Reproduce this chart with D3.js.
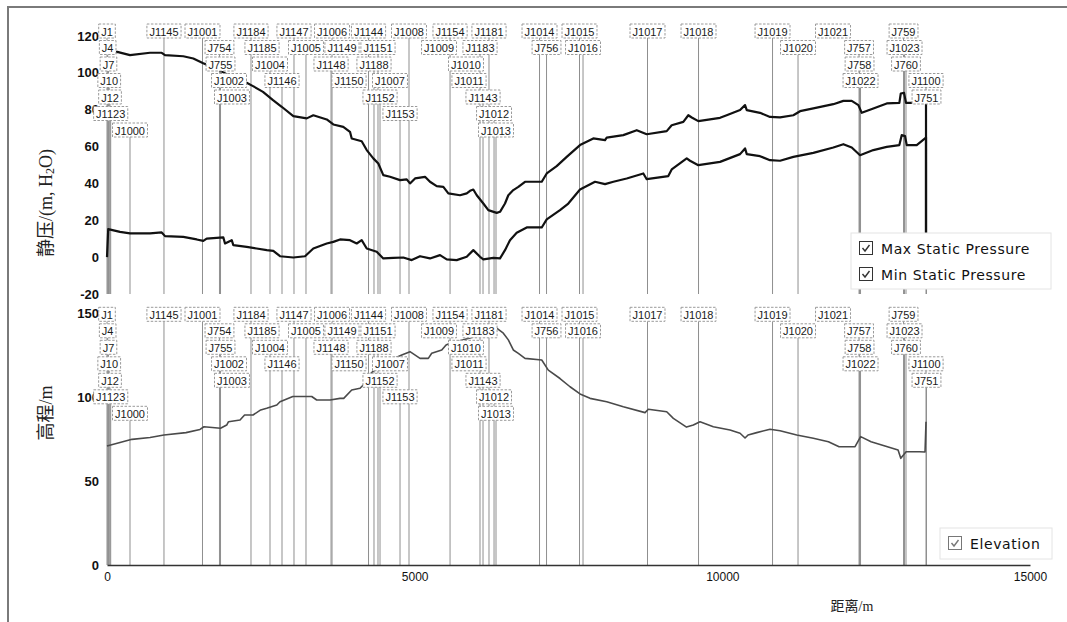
<!DOCTYPE html>
<html>
<head>
<meta charset="utf-8">
<script src="https://cdn.jsdelivr.net/npm/d3@7"></script>
<style>
  body { margin: 0; background: #fff; }
  svg { display: block; }
</style>
</head>
<body>
<svg id="chart" width="1067" height="622"></svg>
<script>
// Junction names along the pipe route, and their distance from the start (m)
const junctionNames = ["J1","J4","J7","J10","J12","J1123","J1000","J1145","J1001","J754","J755","J1002","J1003",
  "J1184","J1185","J1004","J1146","J1147","J1005","J1006","J1149","J1148","J1150","J1144","J1151","J1188",
  "J1007","J1152","J1008","J1153","J1154","J1009","J1010","J1011","J1181","J1183","J1143","J1012","J1013",
  "J1014","J756","J1015","J1016","J1017","J1018","J1019","J1020","J1021","J757","J758","J1022","J759",
  "J1023","J760","J1100","J751"];
const junctionDist = [0,11,24,36,49,60,374,926,1552,1828,1845,1983,2031,
  2340,2519,2649,2844,3039,3234,3657,3819,3641,3933,4250,4404,4339,
  4599,4437,4908,4762,5575,5396,5834,5883,6208,6062,6111,6290,6322,
  7029,7143,7679,7736,8784,9613,10816,11230,11799,12222,12230,12246,12945,
  12961,12985,13310,13318];
// Junctions that are labelled but get no drop line
const unmarkedJunctions = ["J1002","J1003","J1185","J1149","J1150","J1007","J1009","J1010","J1011","J1021"];

// Static pressure envelope along the route: [distance m, head m H2O]
const maxPressure = [[0,111.2],[167,111.4],[374,109.6],[699,110.9],[889,110.9],[943,109.6],[1240,109.0],
  [1403,107.8],[1555,105.4],[1837,101.3],[2080,96.6],[2270,94.6],[2373,92.8],[2535,89.7],[2698,85.2],
  [2839,81.6],[3028,76.5],[3246,75.3],[3353,77.0],[3571,74.7],[3678,72.0],[3840,70.7],[3949,68.0],
  [3977,64.4],[4139,62.9],[4221,58.1],[4328,53.6],[4409,50.8],[4490,44.5],[4599,43.6],[4762,41.8],
  [4871,42.2],[4924,40.0],[5006,42.7],[5168,43.6],[5249,40.9],[5358,38.5],[5466,38.1],[5547,34.6],
  [5737,33.6],[5846,34.6],[5900,36.0],[5953,36.7],[6009,33.6],[6116,29.1],[6197,25.5],[6333,24.0],
  [6387,24.6],[6468,29.1],[6522,33.6],[6603,36.4],[6685,38.1],[6793,40.9],[7065,40.9],[7146,45.4],
  [7308,49.4],[7471,54.4],[7687,60.8],[7903,64.4],[8094,63.5],[8121,64.9],[8391,66.2],[8609,68.9],
  [8771,66.7],[9096,68.4],[9177,71.6],[9366,73.4],[9447,77.0],[9503,75.8],[9610,73.8],[9963,75.6],
  [10071,77.0],[10288,79.8],[10369,82.5],[10397,79.8],[10612,78.3],[10775,76.1],[10938,75.8],
  [11154,77.0],[11263,79.2],[11479,80.7],[11804,83.0],[11967,84.8],[12103,84.8],[12211,82.5],
  [12266,78.3],[12454,80.7],[12672,83.4],[12877,83.7],[12900,88.8],[12953,89.1],[12985,83.7],
  [13104,83.7],[13294,84.6],[13310,85.0],[13310,0]];
const minPressure = [[0,0],[20,15.2],[211,13.7],[374,12.9],[699,12.9],[889,13.4],[943,11.4],[1240,11.0],
  [1458,9.6],[1565,8.8],[1620,10.1],[1890,10.7],[1918,7.4],[2027,9.2],[2053,6.5],[2270,5.6],[2433,4.7],
  [2596,3.8],[2703,3.4],[2812,0.5],[3028,-0.2],[3218,0.5],[3353,4.7],[3571,7.4],[3678,8.3],[3787,9.6],
  [3949,9.2],[4058,7.4],[4139,9.2],[4221,4.7],[4383,2.9],[4490,-0.7],[4653,-0.4],[4815,-0.2],
  [4952,-1.6],[5087,0.5],[5249,-0.7],[5412,1.1],[5521,-1.2],[5683,-1.6],[5846,0.2],[5953,3.8],
  [6062,0.2],[6116,-1.2],[6279,-0.4],[6387,-0.7],[6468,3.8],[6549,9.2],[6658,13.2],[6821,16.1],
  [7065,16.1],[7146,20.5],[7362,25.5],[7497,29.1],[7687,36.7],[7931,40.9],[8094,39.6],[8229,40.9],
  [8446,42.7],[8716,45.4],[8771,42.3],[9122,44.0],[9177,47.6],[9421,53.6],[9475,52.3],[9610,49.9],
  [9963,51.7],[10288,55.9],[10369,59.0],[10397,55.9],[10612,54.8],[10775,52.6],[10938,52.3],
  [11154,54.4],[11479,56.6],[11804,59.5],[11967,61.3],[12103,59.5],[12238,55.3],[12454,58.1],
  [12672,59.8],[12877,60.8],[12915,66.2],[12969,65.7],[12997,60.8],[13159,60.8],[13294,64.4],
  [13310,65.0],[13310,0]];

// Ground elevation along the route: [distance m, elevation m]
const elevation = [[0,70.8],[211,72.9],[406,74.8],[699,75.9],[926,77.4],[1284,78.8],[1511,80.7],
  [1576,82.3],[1845,81.4],[1945,83.3],[1975,85.3],[2162,86.3],[2236,89.3],[2373,89.3],[2498,92.3],
  [2595,93.3],[2760,95.2],[2812,97.2],[3020,100.3],[3327,100.3],[3408,98.2],[3624,98.2],[3787,99.2],
  [3847,99.2],[3977,104.2],[4112,105.2],[4193,108.2],[4221,111.7],[4328,115.5],[4518,119.0],
  [4681,123.2],[4790,125.0],[4924,127.0],[5087,123.0],[5222,123.0],[5277,126.0],[5440,128.0],
  [5510,131.0],[5575,132.0],[5900,135.1],[6225,139.3],[6338,140.8],[6441,138.0],[6522,134.0],
  [6603,128.0],[6685,126.0],[6793,123.0],[7065,122.0],[7172,116.0],[7362,111.0],[7525,106.1],
  [7687,101.8],[7850,99.2],[8121,97.2],[8391,94.2],[8744,90.7],[8797,92.7],[9096,91.2],[9204,87.3],
  [9418,82.1],[9529,83.3],[9637,85.3],[9854,82.3],[10125,80.4],[10288,78.4],[10369,75.6],
  [10418,77.4],[10559,78.8],[10775,80.8],[10938,79.9],[11209,77.4],[11479,75.4],[11724,73.4],
  [11897,70.4],[12157,70.4],[12248,76.4],[12417,73.4],[12856,68.5],[12900,63.5],[12986,67.4],
  [13205,67.4],[13294,67.3],[13310,85.3]];

const pressureTicks = [-20, 0, 20, 40, 60, 80, 100, 120];
const elevationTicks = [0, 50, 100, 150];
const distanceTicks = [0, 5000, 10000, 15000];
const pressureSeries = ["Max Static Pressure", "Min Static Pressure"];
const elevationSeries = ["Elevation"];

const svg = d3.select("#chart");

const x = d3.scaleLinear().domain([0, 15000]).range([107, 1030]);
const yP = d3.scaleLinear().domain([-20, 120]).range([294, 36]);
const yE = d3.scaleLinear().domain([0, 150]).range([565, 313]);

// outer frame (top and left edges)
svg.append("path")
  .attr("d", "M8,622 L8,7 L1067,7")
  .attr("fill", "none").attr("stroke", "#7a7a7a").attr("stroke-width", 2);

// --- label row layout: greedy, first row where the box fits ---
const labelFont = "11px 'Liberation Sans', Arial, sans-serif";
const ctx = document.createElement("canvas").getContext("2d");
ctx.font = labelFont;
const rowsRight = [];
const labels = junctionNames.map((name, i) => {
  const cx = x(junctionDist[i]);
  const w = ctx.measureText(name).width + 5;
  const left = cx - w / 2;
  let r = 0;
  while (rowsRight[r] !== undefined && rowsRight[r] + 0.5 > left) r++;
  rowsRight[r] = left + w;
  return { name, cx, w, row: r, marked: !unmarkedJunctions.includes(name) };
});

const rowGap = 16.5;
const boxH = 14;

function drawDropLines(g, rowTop, plotBottom) {
  g.append("g").selectAll("line").data(labels.filter(d => d.marked)).join("line")
    .attr("x1", d => d.cx).attr("x2", d => d.cx)
    .attr("y1", d => rowTop + d.row * rowGap + boxH / 2)
    .attr("y2", plotBottom)
    .attr("stroke", "#8f8f8f").attr("stroke-width", 1);
}

function drawLabels(g, rowTop) {
  const lg = g.append("g").selectAll("g").data(labels).join("g")
    .attr("transform", d => `translate(${d.cx - d.w / 2},${rowTop + d.row * rowGap - boxH / 2})`);
  lg.append("rect")
    .attr("width", d => d.w).attr("height", boxH)
    .attr("fill", "#fff").attr("stroke", "#9a9a9a").attr("stroke-width", 1)
    .attr("stroke-dasharray", "2.5,1.5");
  lg.append("text")
    .attr("x", d => d.w / 2).attr("y", boxH / 2 + 0.5)
    .attr("text-anchor", "middle").attr("dominant-baseline", "central")
    .style("font", labelFont).attr("fill", "#1a1a1a")
    .text(d => d.name);
}

const tickFont = "bold 13px 'Liberation Sans', Arial, sans-serif";

// ---------- pressure panel ----------
const gTop = svg.append("g");
drawDropLines(gTop, 31, 294);

gTop.append("g").selectAll("text").data(pressureTicks).join("text")
  .attr("x", 99).attr("y", d => yP(d))
  .attr("text-anchor", "end").attr("dominant-baseline", "central")
  .style("font", tickFont).attr("fill", "#111")
  .text(d => d);

const lineP = d3.line().x(d => x(d[0])).y(d => yP(d[1]));
gTop.append("path").datum(maxPressure).attr("d", lineP)
  .attr("fill", "none").attr("stroke", "#111").attr("stroke-width", 2.2).attr("stroke-linejoin", "round");
gTop.append("path").datum(minPressure).attr("d", lineP)
  .attr("fill", "none").attr("stroke", "#111").attr("stroke-width", 2.2).attr("stroke-linejoin", "round");

drawLabels(gTop, 31);

// ---------- elevation panel ----------
const gBot = svg.append("g");
drawDropLines(gBot, 314.3, 565);

gBot.append("g").selectAll("text").data(elevationTicks).join("text")
  .attr("x", 99).attr("y", d => yE(d))
  .attr("text-anchor", "end").attr("dominant-baseline", "central")
  .style("font", tickFont).attr("fill", "#111")
  .text(d => d);

const lineE = d3.line().x(d => x(d[0])).y(d => yE(d[1]));
gBot.append("path").datum(elevation).attr("d", lineE)
  .attr("fill", "none").attr("stroke", "#4a4a4a").attr("stroke-width", 1.6).attr("stroke-linejoin", "round");

drawLabels(gBot, 314.3);

// distance axis
const xAxis = d3.axisBottom(x).tickValues(distanceTicks).tickSize(0).tickPadding(7).tickFormat(d3.format("d"));
const ax = svg.append("g").attr("transform", "translate(0,565)").call(xAxis);
ax.select(".domain").attr("stroke", "#333").attr("stroke-width", 1.6);
ax.selectAll("text").style("font", "12px 'Liberation Sans', Arial, sans-serif").attr("fill", "#111");

// axis titles
const titleFont = "'Liberation Serif', 'Noto Sans CJK SC', serif";
const tP = svg.append("text")
  .attr("transform", "translate(46,203) rotate(-90)")
  .attr("text-anchor", "middle").attr("dominant-baseline", "central")
  .style("font-family", titleFont).style("font-size", "18px").attr("fill", "#222");
tP.append("tspan").text("静压/(m, H");
tP.append("tspan").text("2").style("font-size", "12px").attr("dy", 4);
tP.append("tspan").text("O)").attr("dy", -4);

svg.append("text")
  .attr("transform", "translate(46,413) rotate(-90)")
  .attr("text-anchor", "middle").attr("dominant-baseline", "central")
  .style("font-family", titleFont).style("font-size", "18px").attr("fill", "#222")
  .text("高程/m");

svg.append("text")
  .attr("x", 852).attr("y", 606)
  .attr("text-anchor", "middle").attr("dominant-baseline", "central")
  .style("font-family", titleFont).style("font-size", "14px").attr("fill", "#222")
  .text("距离/m");

// legends with check boxes
function legend(x0, y0, w, h, names, boxColor) {
  const g = svg.append("g");
  g.append("rect").attr("x", x0).attr("y", y0).attr("width", w).attr("height", h)
    .attr("fill", "#fff").attr("stroke", "#e4e4e4");
  const it = g.selectAll("g.item").data(names).join("g")
    .attr("transform", (d, i) => `translate(${x0 + 8},${y0 + 8 + i * 26})`);
  it.append("rect").attr("x", 0.5).attr("y", 0.5).attr("width", 13).attr("height", 13)
    .attr("fill", "#fff").attr("stroke", boxColor);
  it.append("path").attr("d", "M3.5,7 L6,10 L10.5,4")
    .attr("fill", "none").attr("stroke", boxColor).attr("stroke-width", 1.4);
  it.append("text").attr("x", 22).attr("y", 7.5)
    .attr("dominant-baseline", "central")
    .style("font", "14px 'DejaVu Sans', Verdana, sans-serif").style("letter-spacing", "0.6px")
    .attr("fill", "#111").text(d => d);
}
legend(851, 233, 200, 56, pressureSeries, "#333");
legend(940, 528, 112, 31, elevationSeries, "#777");
</script>
</body>
</html>
